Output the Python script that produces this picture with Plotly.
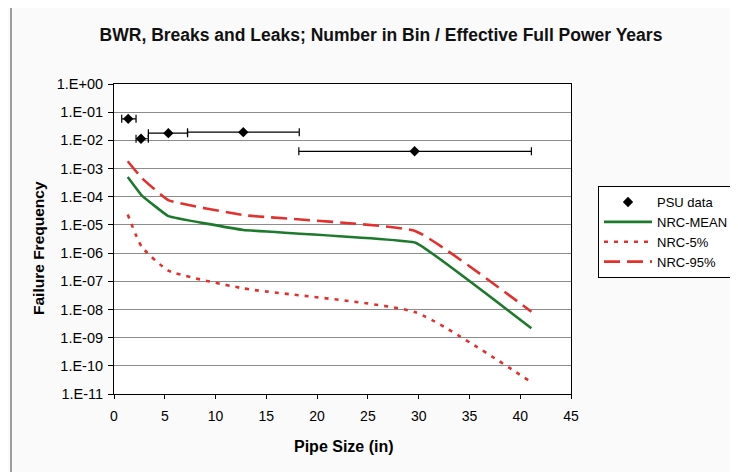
import plotly.graph_objects as go

# ---- data ----
psu_x = [1.4, 2.66, 5.35, 12.73, 29.6]
psu_y = [0.058, 0.0114, 0.018, 0.0196, 0.0041]
psu_xlow = [0.76, 2.17, 3.38, 7.24, 18.2]
psu_xhigh = [2.17, 3.38, 7.24, 18.24, 41.1]

nrc_x = [1.35, 2.72, 5.35, 12.73, 29.7, 41.1]
nrc_mean = [5.0e-4, 1.12e-4, 2.04e-5, 6.6e-6, 2.34e-6, 2.14e-9]
nrc_5 = [2.34e-5, 1.7e-6, 2.4e-7, 5.6e-8, 7.9e-9, 2.6e-11]
nrc_95 = [1.82e-3, 4.7e-4, 7.6e-5, 2.24e-5, 6.0e-6, 8.3e-9]

y_tickvals = [10.0 ** (-k) for k in range(0, 12)]
y_ticktext = ["1.E+00"] + ["1.E-%02d" % k for k in range(1, 12)]
x_tickvals = [0, 5, 10, 15, 20, 25, 30, 35, 40, 45]

FONT = "'Liberation Sans', Arial, sans-serif"
GREEN = "#1d7a2c"
RED = "#e3302c"

fig = go.Figure()

fig.add_trace(go.Scatter(
    x=psu_x, y=psu_y, mode="markers", name="PSU data",
    marker=dict(symbol="diamond", size=8, color="black"),
    error_x=dict(type="data", symmetric=False,
                 array=[h - x for h, x in zip(psu_xhigh, psu_x)],
                 arrayminus=[x - l for l, x in zip(psu_xlow, psu_x)],
                 color="black", thickness=1.2, width=4),
))
fig.add_trace(go.Scatter(
    x=nrc_x, y=nrc_mean, mode="lines", name="NRC-MEAN",
    line=dict(color=GREEN, width=2.6, shape="spline", smoothing=0.2),
))
fig.add_trace(go.Scatter(
    x=nrc_x, y=nrc_5, mode="lines", name="NRC-5%",
    line=dict(color=RED, width=2.6, dash="4px,6px", shape="spline", smoothing=0.5),
))
fig.add_trace(go.Scatter(
    x=nrc_x, y=nrc_95, mode="lines", name="NRC-95%",
    line=dict(color=RED, width=2.6, dash="16px,7px", shape="spline", smoothing=0.35),
))

OFF = 8  # default page body margin
L, R, T, B = 114, 571, 84, 394   # plot area in screen pixels
SW, SH = 738, 472                # screen size
W, H = SW - OFF, SH - OFF
pw, ph = R - L, B - T

def px_x(p):
    return (p - L) / pw

def px_y(p):
    return (B - p) / ph

fig.update_layout(
    width=W, height=H,
    margin=dict(l=L - OFF, r=SW - R, t=T - OFF, b=SH - B, pad=0),
    paper_bgcolor="#fafafa",
    plot_bgcolor="white",
    font=dict(family=FONT, size=12, color="black"),
    title=dict(text="<b>BWR, Breaks and Leaks; Number in Bin / Effective Full Power Years</b>",
               x=(381 - OFF) / W, xanchor="center", y=1 - (35 - OFF) / H, yanchor="middle",
               font=dict(size=17.5, family=FONT, color="#111111")),
    showlegend=True,
    legend=dict(xref="container", yref="container",
                x=(598 - OFF) / W, y=1 - (186 - OFF) / H, xanchor="left", yanchor="top",
                bgcolor="white", bordercolor="black", borderwidth=1,
                font=dict(size=13, family=FONT), tracegroupgap=0, itemwidth=48),
    xaxis=dict(range=[0, 45], tickvals=x_tickvals, showgrid=False, zeroline=False,
               showline=True, linecolor="black", linewidth=1, mirror=True,
               ticks="outside", ticklen=4, tickcolor="black", tickfont=dict(size=14),
               ticklabelstandoff=5),
    yaxis=dict(type="log", range=[-11, 0], tickvals=y_tickvals, ticktext=y_ticktext,
               showgrid=True, gridcolor="#8c8c8c", gridwidth=1, zeroline=False,
               showline=True, linecolor="black", linewidth=1, mirror=True,
               ticks="outside", ticklen=5, tickcolor="black", tickfont=dict(size=14.5),
               ticklabelstandoff=2),
    annotations=[
        dict(text="<b>Pipe Size (in)</b>", xref="paper", yref="paper",
             x=px_x(344), y=px_y(446), xanchor="center", yanchor="middle",
             showarrow=False, font=dict(size=16, family=FONT)),
        dict(text="<b>Failure Frequency</b>", xref="paper", yref="paper",
             x=px_x(38), y=px_y(248), xanchor="center", yanchor="middle",
             textangle=-90, showarrow=False, font=dict(size=15.5, family=FONT)),
    ],
    shapes=[
        dict(type="rect", xref="paper", yref="paper",
             x0=px_x(11), x1=px_x(760), y0=px_y(490), y1=px_y(6),
             line=dict(color="#606060", width=1.2), fillcolor="rgba(0,0,0,0)", layer="below"),
    ],
)

fig.write_html("out.html")
